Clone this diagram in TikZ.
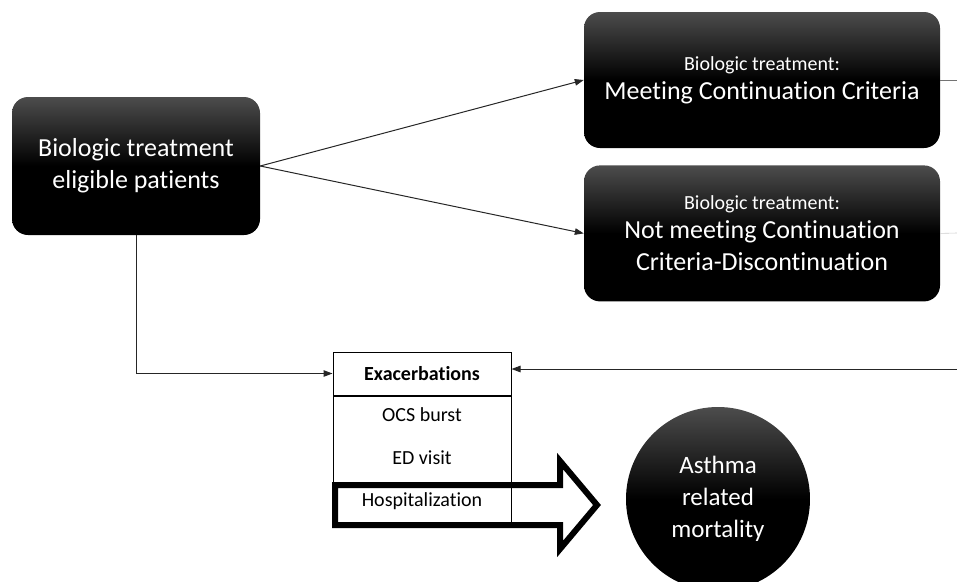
\documentclass[tikz,border=0pt]{standalone}
\usepackage{fontspec}
\setmainfont[Ligatures=NoCommon]{Carlito}
\usepackage{tikz}
\usetikzlibrary{shapes, arrows, arrows.meta, calc, positioning}
\tikzstyle{block} = [rectangle, rounded corners=16pt, minimum width=356pt, minimum height=136pt, text centered, align=center, text=white, top color=black!70, bottom color=black, middle color=black]
\tikzstyle{cell} = [rectangle, draw=black, line width=1pt, minimum width=178pt, text centered, align=center, font=\fontsize{20}{42.5}\selectfont, inner sep=0pt]
\tikzstyle{arrow} = [line width=1pt, draw=black!85, ->, >={Triangle[length=9pt, width=6.5pt]}]

\begin{document}
\begin{tikzpicture}[x=1pt, y=-1pt, node distance=17pt]
    \useasboundingbox (0,0) rectangle (957,581);
    \node (Eligible) [block, minimum width=248pt, minimum height=138pt, font=\fontsize{26}{32}\selectfont] at (136,166) {Biologic treatment\\eligible patients};
    \node (Meeting) [block, font=\fontsize{26}{32}\selectfont] at (762,80) {{\fontsize{20}{24}\selectfont Biologic treatment:}\\[-3pt]Meeting Continuation Criteria};
    \node (NotMeeting) [block, below = of Meeting, font=\fontsize{26}{32}\selectfont] {{\fontsize{20}{24}\selectfont Biologic treatment:}\\[-3pt]Not meeting Continuation\\Criteria-Discontinuation};
    \node (Exac) [cell, minimum height=43pt] at (422,373.5) {\textbf{Exacerbations}};
    \node (Events) [cell, minimum height=126pt, below = 0pt of Exac] {OCS burst\\ED visit\\Hospitalization};
    \node (Mortality) [circle, minimum size=184pt, align=center, text=white, top color=black!70, bottom color=black, middle color=black, font=\fontsize{25}{32}\selectfont] at (718,499) {Asthma\\related\\mortality};
    \coordinate (OutTop) at (957,80);
    \coordinate (OutMid) at (957,233);
    \coordinate (InRight) at (957,369);
    \draw [arrow] (Eligible.east) -- (Meeting.west);
    \draw [arrow] (Eligible.east) -- (NotMeeting.west);
    \draw [arrow] (Eligible.south) |- (Exac.west);
    \draw [arrow] (InRight) -- (InRight -| Exac.east);
    \draw [line width=1pt, black!55] (Meeting.east) -- (OutTop);
    \draw [line width=0.6pt, black!20] (NotMeeting.east) -- (OutMid);
    % hollow arrow over the last row
    \draw [line width=6pt, miter limit=10] (335,485) -- (560,485) -- (560,461) -- (597,505) -- (560,549) -- (560,525) -- (335,525) -- cycle;
\end{tikzpicture}
\end{document}
